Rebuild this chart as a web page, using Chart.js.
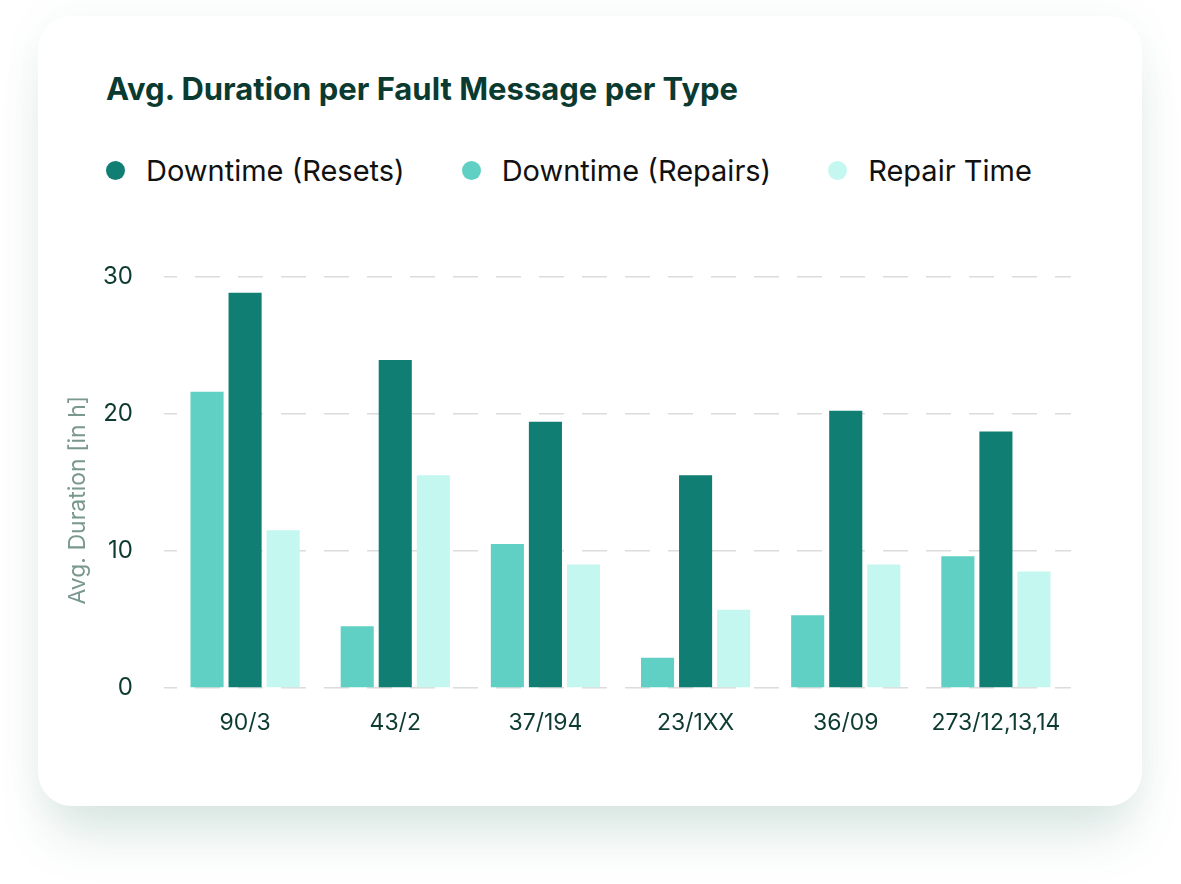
<!DOCTYPE html>
<html>
<head>
<meta charset="utf-8">
<script src="https://cdn.jsdelivr.net/npm/chart.js@4.4.1/dist/chart.umd.min.js"></script>
<style>
  html, body { margin: 0; padding: 0; background: #fff; }
  body { width: 1181px; height: 884px; position: relative; overflow: hidden; font-family: Inter, "Noto Sans", sans-serif; }
  .card {
    position: absolute; left: 38px; top: 16px; width: 1104px; height: 790px;
    background: #fff; border-radius: 34px;
    box-shadow: 0 40px 50px -12px rgba(50, 125, 100, 0.17), 0 0 40px rgba(50, 125, 100, 0.06);
  }
  h1 {
    position: absolute; left: 106px; top: 73px; margin: 0;
    font-size: 31px; line-height: 1; font-weight: 700; letter-spacing: 0; color: #0b3b30;
  }
  .legend { position: absolute; left: 106px; top: 156px; display: flex; font-size: 29px; line-height: 29px; color: #111; }
  .legend .item { display: flex; align-items: center; margin-right: 57px; }
  .legend .dot { width: 19px; height: 19px; border-radius: 50%; margin-right: 21px; }
  .chart-wrap { position: absolute; left: 50px; top: 231px; width: 1041px; height: 525px; }
</style>
</head>
<body>
<div class="card"></div>
<h1>Avg. Duration per Fault Message per Type</h1>
<div class="legend" id="legend"></div>
<div class="chart-wrap"><canvas id="duration-chart"></canvas></div>
<script>
// --- DATA ---
const categories = ['90/3', '43/2', '37/194', '23/1XX', '36/09', '273/12,13,14'];
const downtimeRepairs = [21.6, 4.5, 10.5, 2.2, 5.3, 9.6];
const downtimeResets = [28.8, 23.9, 19.4, 15.5, 20.2, 18.7];
const repairTime = [11.5, 15.5, 9.0, 5.7, 9.0, 8.5];
const yTicks = [0, 10, 20, 30];

const seriesLabels = ['Downtime (Repairs)', 'Downtime (Resets)', 'Repair Time'];
const seriesColors = ['#5fd0c3', '#107e72', '#c3f7ef'];
const legendOrder = [1, 0, 2];
const Y_TITLE = 'Avg. Duration [in h]';

const TEXT_DARK = '#0e3b31';

// --- LEGEND ---
const legendEl = document.getElementById('legend');
legendOrder.forEach(i => {
    const item = document.createElement('div');
    item.className = 'item';
    const dot = document.createElement('span');
    dot.className = 'dot';
    dot.style.background = seriesColors[i];
    const label = document.createElement('span');
    label.textContent = seriesLabels[i];
    item.appendChild(dot);
    item.appendChild(label);
    legendEl.appendChild(item);
});

// y-axis title sits a bit below the middle of the axis in the design
const yTitlePlugin = {
    id: 'yTitle',
    afterDraw(chart) {
        const s = chart.scales.y;
        const ctx = chart.ctx;
        ctx.save();
        ctx.translate(s.left + 28, (s.top + s.bottom) / 2 + 18);
        ctx.rotate(-Math.PI / 2);
        ctx.font = '23px Inter';
        ctx.fillStyle = '#7a9890';
        ctx.textAlign = 'center';
        ctx.textBaseline = 'middle';
        ctx.fillText(Y_TITLE, 0, 0);
        ctx.restore();
    }
};

// --- CHART ---
const seriesData = [downtimeRepairs, downtimeResets, repairTime];

new Chart(document.getElementById('duration-chart'), {
    type: 'bar',
    data: {
        labels: categories,
        datasets: seriesData.map((data, i) => ({
            label: seriesLabels[i],
            data: data,
            backgroundColor: seriesColors[i],
            categoryPercentage: 0.76,
            barPercentage: 0.87
        }))
    },
    plugins: [yTitlePlugin],
    options: {
        responsive: true,
        maintainAspectRatio: false,
        animation: false,
        layout: { padding: { top: 0, right: 20, bottom: 0, left: 0 } },
        plugins: {
            legend: { display: false },
            title: { display: false },
            tooltip: { enabled: false }
        },
        scales: {
            x: {
                grid: { display: false, drawTicks: false },
                border: { display: false },
                ticks: { color: TEXT_DARK, padding: 21, font: { family: 'Inter', size: 23 } },
                afterFit: scale => { scale.height = 68; }
            },
            y: {
                min: 0,
                max: 30,
                afterBuildTicks: scale => { scale.ticks = yTicks.map(v => ({ value: v })); },
                grid: {
                    color: '#dcdcdc',
                    lineWidth: 1.5,
                    drawTicks: true,
                    tickLength: 6
                },
                border: { display: false, dash: [25, 18], dashOffset: 18 },
                ticks: { color: TEXT_DARK, padding: 31, font: { family: 'Inter', size: 24 } },
                afterFit: scale => { scale.width = 120; }
            }
        }
    }
});
</script>
</body>
</html>
